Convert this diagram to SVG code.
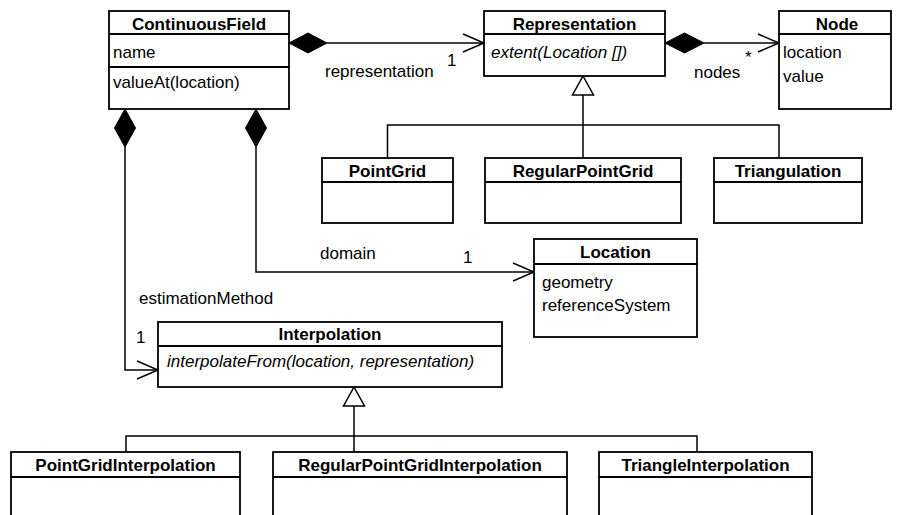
<svg xmlns="http://www.w3.org/2000/svg" width="902" height="515" viewBox="0 0 902 515">
<defs>
<style>
.box{fill:#fff;stroke:#000;stroke-width:1.8}
.sep{stroke:#000;stroke-width:1.8}
.ln{fill:none;stroke:#000;stroke-width:1.5}
.dia{fill:#000;stroke:#000;stroke-width:1}
.tri{fill:#fff;stroke:#000;stroke-width:1.5}
text{font-family:"Liberation Sans",Arial,sans-serif;font-size:17px;fill:#000}
.h{font-weight:bold;text-anchor:middle}
.it{font-style:italic}
</style>
</defs>
<rect width="902" height="515" fill="#fff"/>
<g id="connectors">
<line class="ln" x1="327" y1="43" x2="484" y2="43"/>
<polyline class="ln" points="463,34 484,43 463,52"/>
<polygon class="dia" points="289,43 308,33 327,43 308,53"/>
<line class="ln" x1="704" y1="43" x2="779" y2="43"/>
<polyline class="ln" points="758,34 779,43 758,52"/>
<polygon class="dia" points="665,43 684.5,33 704,43 684.5,53"/>
<polyline class="ln" points="256,147 256,272 534,272"/>
<polyline class="ln" points="513,263 534,272 513,281"/>
<polygon class="dia" points="256,109 266.5,128 256,147 245.5,128"/>
<polyline class="ln" points="125,147 125,370 158,370"/>
<polyline class="ln" points="137,361 158,370 137,379"/>
<polygon class="dia" points="125,109 135.5,128 125,147 114.5,128"/>
<line class="ln" x1="583" y1="95" x2="583" y2="158"/>
<polyline class="ln" points="387.5,158 387.5,125 779,125 779,158"/>
<polygon class="tri" points="583,76 593.5,95 572.5,95"/>
<line class="ln" x1="354" y1="406" x2="354" y2="452"/>
<polyline class="ln" points="126,452 126,436 697,436 697,452"/>
<polygon class="tri" points="354,387 364.5,406 343.5,406"/>
<text x="325" y="77">representation</text>
<text x="447" y="66">1</text>
<text x="694" y="78">nodes</text>
<text x="745" y="63">*</text>
<text x="320" y="259">domain</text>
<text x="463" y="263">1</text>
<text x="139" y="304">estimationMethod</text>
<text x="136" y="343">1</text>
</g>
<g id="ContinuousField">
<rect class="box" x="109" y="11" width="180" height="98"/>
<line class="sep" x1="109" y1="34" x2="289" y2="34"/>
<line class="sep" x1="109" y1="67" x2="289" y2="67"/>
<text class="h" x="199" y="30">ContinuousField</text>
<text x="113" y="58">name</text>
<text x="113" y="88">valueAt(location)</text>
</g>
<g id="Representation">
<rect class="box" x="484" y="11" width="181" height="65"/>
<line class="sep" x1="484" y1="34" x2="665" y2="34"/>
<text class="h" x="574.5" y="30">Representation</text>
<text class="it" x="491" y="58">extent(Location [])</text>
</g>
<g id="Node">
<rect class="box" x="779" y="11" width="112" height="98"/>
<line class="sep" x1="779" y1="34" x2="891" y2="34"/>
<text class="h" x="837" y="30">Node</text>
<text x="783" y="58">location</text>
<text x="783" y="82">value</text>
</g>
<g id="PointGrid">
<rect class="box" x="322" y="158" width="131" height="65"/>
<line class="sep" x1="322" y1="182" x2="453" y2="182"/>
<text class="h" x="387.5" y="177">PointGrid</text>
</g>
<g id="RegularPointGrid">
<rect class="box" x="485" y="158" width="196" height="65"/>
<line class="sep" x1="485" y1="182" x2="681" y2="182"/>
<text class="h" x="583" y="177">RegularPointGrid</text>
</g>
<g id="Triangulation">
<rect class="box" x="714" y="158" width="148" height="65"/>
<line class="sep" x1="714" y1="182" x2="862" y2="182"/>
<text class="h" x="788" y="177">Triangulation</text>
</g>
<g id="Location">
<rect class="box" x="534" y="239" width="163" height="98"/>
<line class="sep" x1="534" y1="264" x2="697" y2="264"/>
<text class="h" x="615.5" y="258">Location</text>
<text x="542" y="288">geometry</text>
<text x="542" y="311">referenceSystem</text>
</g>
<g id="Interpolation">
<rect class="box" x="158" y="322" width="344" height="65"/>
<line class="sep" x1="158" y1="346" x2="502" y2="346"/>
<text class="h" x="330" y="340">Interpolation</text>
<text class="it" x="167" y="367">interpolateFrom(location, representation)</text>
</g>
<g id="PointGridInterpolation">
<rect class="box" x="11" y="452" width="229" height="80"/>
<line class="sep" x1="11" y1="477" x2="240" y2="477"/>
<text class="h" x="125.5" y="471">PointGridInterpolation</text>
</g>
<g id="RegularPointGridInterpolation">
<rect class="box" x="273" y="452" width="294" height="80"/>
<line class="sep" x1="273" y1="477" x2="567" y2="477"/>
<text class="h" x="420" y="471">RegularPointGridInterpolation</text>
</g>
<g id="TriangleInterpolation">
<rect class="box" x="599" y="452" width="213" height="80"/>
<line class="sep" x1="599" y1="477" x2="812" y2="477"/>
<text class="h" x="705.5" y="471">TriangleInterpolation</text>
</g>
</svg>
